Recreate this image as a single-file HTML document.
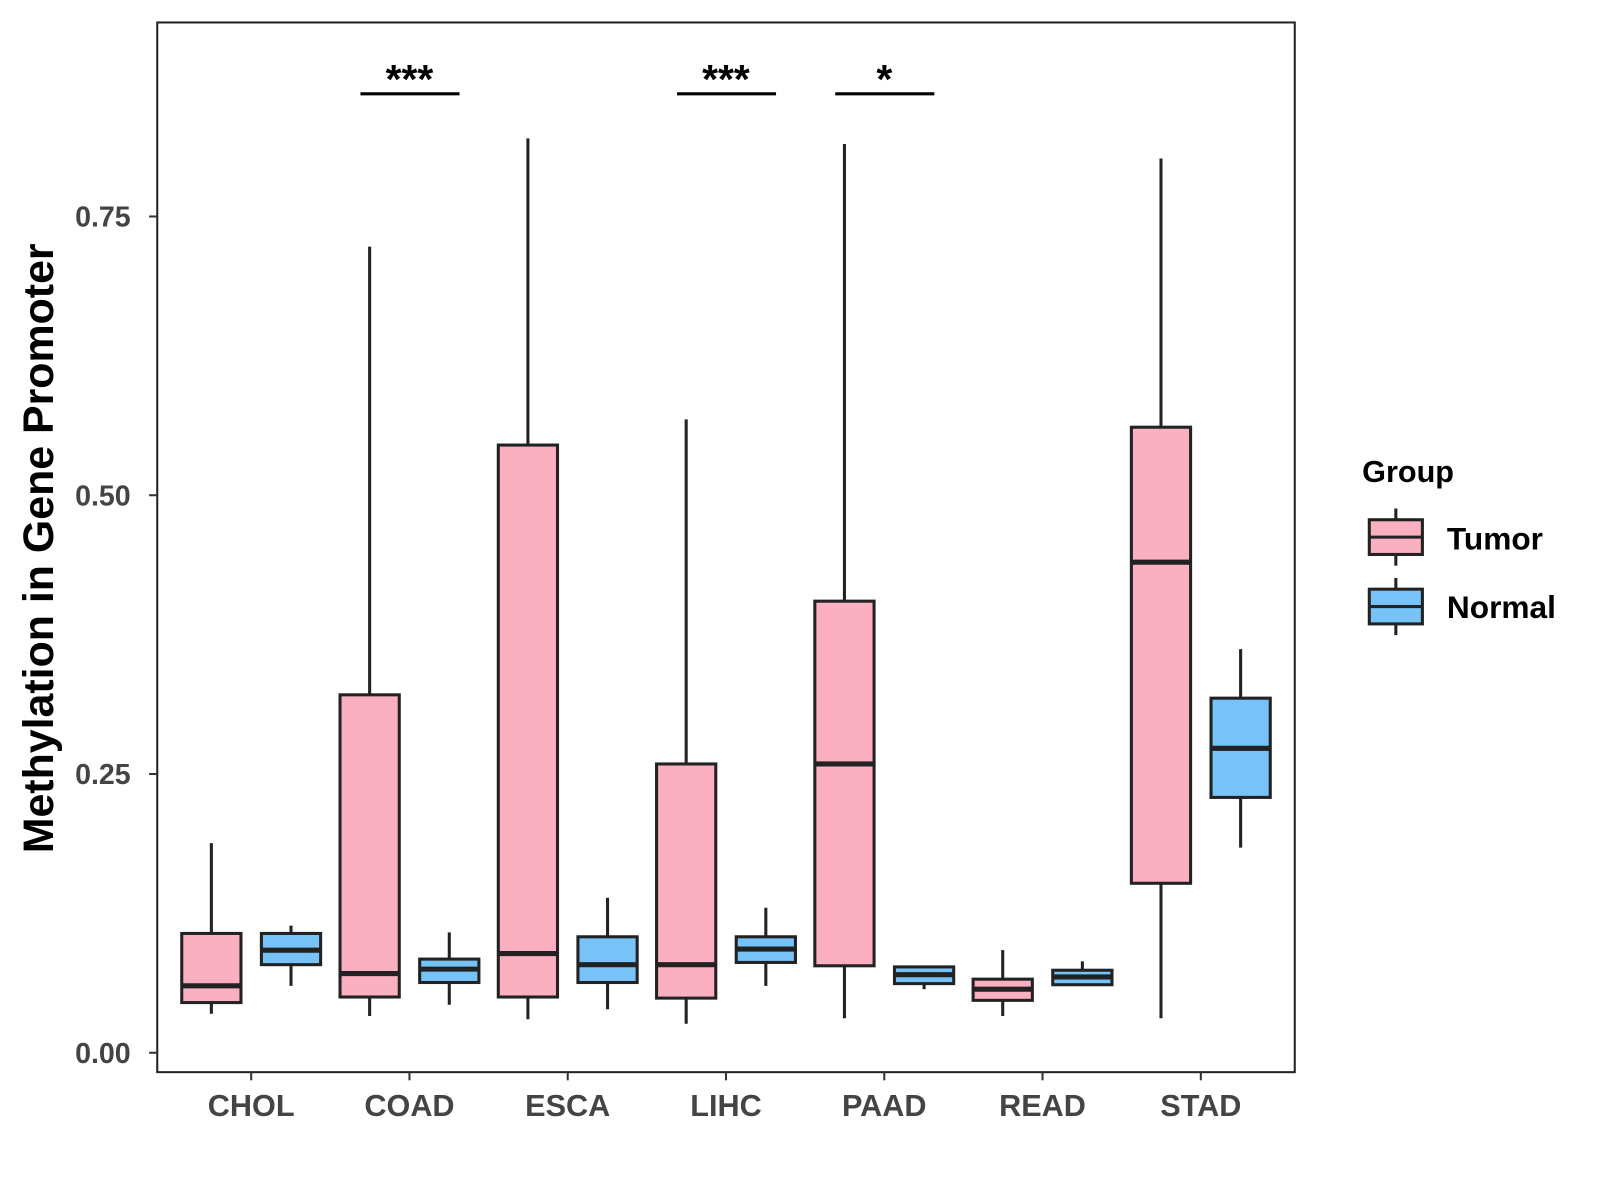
<!DOCTYPE html>
<html><head><meta charset="utf-8"><style>
html,body{margin:0;padding:0;background:#fff;}
svg{display:block;font-family:"Liberation Sans",Arial,sans-serif;}
</style></head><body>
<svg id="chart" width="1600" height="1200" viewBox="0 0 1600 1200">
<g transform="scale(1.0211)">
<rect x="154" y="22" width="1114" height="1028" fill="#fff" stroke="#222" stroke-width="2"/>
<g id="marks"></g>
<text transform="translate(52,537) rotate(-90)" text-anchor="middle" font-size="42" font-weight="bold" fill="#000">Methylation in Gene Promoter</text>
<g>
<text x="1334" y="472" font-size="30" font-weight="bold">Group</text>
<g>
<line x1="1367" y1="498" x2="1367" y2="554" stroke="#222" stroke-width="3"/>
<rect x="1341" y="509" width="52" height="34" fill="#fbb0c1" stroke="#222" stroke-width="3"/>
<line x1="1341" y1="526" x2="1393" y2="526" stroke="#222" stroke-width="3"/>
<text x="1417" y="538" font-size="31" font-weight="bold">Tumor</text></g>
<g>
<line x1="1367" y1="566" x2="1367" y2="622" stroke="#222" stroke-width="3"/>
<rect x="1341" y="577" width="52" height="34" fill="#77c2f7" stroke="#222" stroke-width="3"/>
<line x1="1341" y1="594" x2="1393" y2="594" stroke="#222" stroke-width="3"/>
<text x="1417" y="605" font-size="31" font-weight="bold">Normal</text></g>
</g>
</g>
</svg>
<script>
const categories=["CHOL","COAD","ESCA","LIHC","PAAD","READ","STAD"];
// [whiskerLow, Q1, median, Q3, whiskerHigh]
const tumorStats=[[0.035,0.045,0.060,0.107,0.188],[0.033,0.050,0.071,0.321,0.723],[0.030,0.050,0.089,0.545,0.820],[0.026,0.049,0.079,0.259,0.568],[0.031,0.078,0.259,0.405,0.815],[0.033,0.047,0.057,0.066,0.092],[0.031,0.152,0.440,0.561,0.802]];
const normalStats=[[0.060,0.079,0.092,0.107,0.114],[0.043,0.063,0.075,0.084,0.108],[0.039,0.063,0.079,0.104,0.139],[0.060,0.081,0.093,0.104,0.130],[0.057,0.062,0.070,0.077,0.077],[0.060,0.061,0.068,0.074,0.082],[0.184,0.229,0.273,0.318,0.362]];
const yTicks=[0,0.25,0.5,0.75];
const yTickLabels=["0.00","0.25","0.50","0.75"];
const sigLabels=["","***","","***","*","",""];
const sigLevel=0.86;
const NS="http://www.w3.org/2000/svg";
const yS=v=>1031-v*1092;
const xS=i=>246+i*155;
const g=document.getElementById("marks");
function mk(t,a,p){const e=document.createElementNS(NS,t);for(const k in a)e.setAttribute(k,a[k]);(p||g).appendChild(e);return e;}
yTicks.forEach((t,i)=>{
 const l=mk("line",{x1:146,x2:154,y1:yS(t),y2:yS(t),stroke:"#333","stroke-width":2});
 
 
 const tx=mk("text",{x:128,y:yS(t)+10,"text-anchor":"end","font-size":28,"font-weight":"bold",fill:"#444"});
 tx.textContent=yTickLabels[i];
 
 
});
categories.forEach((c,i)=>{
 const x=xS(i);
 const tk=mk("line",{x1:x,x2:x,y1:1050,y2:1058,stroke:"#333","stroke-width":2});
 
 
 const tx=mk("text",{x:x,y:1093,"text-anchor":"middle","font-size":30,"font-weight":"bold",fill:"#444"});
 tx.textContent=c;
 
 
 [[tumorStats[i],-39,"#fbb0c1","tumor"],[normalStats[i],39,"#77c2f7","normal"]].forEach(([s,off,col,nm])=>{
  const cx=x+off;
  const bg=mk("g",{});
  
  
  mk("line",{x1:cx,x2:cx,y1:yS(s[0]),y2:yS(s[4]),stroke:"#222","stroke-width":3},bg);
  mk("rect",{x:cx-29,y:yS(s[3]),width:58,height:yS(s[1])-yS(s[3]),fill:col,stroke:"#222","stroke-width":3},bg);
  mk("line",{x1:cx-29,x2:cx+29,y1:yS(s[2]),y2:yS(s[2]),stroke:"#222","stroke-width":5},bg);
 });
 if(sigLabels[i]){
  const sg=mk("g",{});
  
  
  mk("line",{x1:x-48,x2:x+49,y1:yS(sigLevel),y2:yS(sigLevel),stroke:"#000","stroke-width":3},sg);
  const st=mk("text",{x:x,y:yS(sigLevel)-1,"text-anchor":"middle","font-size":40,"font-weight":"bold"},sg);
  st.textContent=sigLabels[i];
 }
});
</script>
</body></html>
